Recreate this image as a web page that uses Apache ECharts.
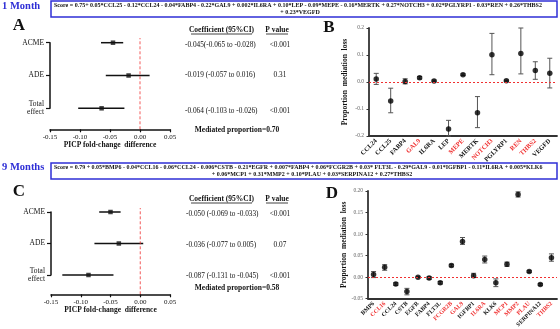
<!DOCTYPE html>
<html>
<head>
<meta charset="utf-8">
<script src="https://cdn.jsdelivr.net/npm/echarts@6/dist/echarts.min.js"></script>
<style>
html, body { margin: 0; padding: 0; background: #fff; }
#main { width: 560px; height: 329px; }
</style>
</head>
<body>
<div id="main"></div>
<script>
// forest plots (A: 1 month, C: 9 months)
var effectNames = ['ACME', 'ADE', 'Total effect'];
var coefA = [-0.045, -0.019, -0.064];
var lowA = [-0.065, -0.057, -0.103];
var highA = [-0.028, 0.016, -0.026];
var pA = ['<0.001', '0.31', '<0.001'];
var propA = '0.70';
var coefC = [-0.050, -0.036, -0.087];
var lowC = [-0.069, -0.077, -0.131];
var highC = [-0.033, 0.005, -0.045];
var pC = ['<0.001', '0.07', '<0.001'];
var propC = '0.58';
var zeroLine = [[0, 0], [0, 1]];

// proportion mediation loss (B: 1 month)
var genesB = ['CCL24', 'CCL25', 'FABP4', 'GAL9', 'IL6RA', 'LEP', 'MEPE', 'MERTK', 'NOTCH3', 'PGLYRP1', 'REN', 'THBS2', 'VEGFD'];
var redB = ['GAL9', 'MEPE', 'NOTCH3', 'REN', 'THBS2'];
var estB = [0.011, -0.070, 0.002, 0.016, 0.004, -0.174, 0.027, -0.114, 0.101, 0.005, 0.106, 0.043, 0.032];
var lowB = [-0.009, -0.114, -0.007, 0.011, 0.001, -0.200, 0.024, -0.169, 0.027, 0.003, 0.030, 0.010, -0.022];
var highB = [0.032, -0.023, 0.012, 0.020, 0.007, -0.142, 0.030, -0.054, 0.180, 0.007, 0.200, 0.075, 0.088];

// proportion mediation loss (D: 9 months)
var genesD = ['BMP6', 'CCL16', 'CCL24', 'CSTB', 'EGFR', 'FABP4', 'FLT3L', 'FCGR2B', 'GAL9', 'IGFBP1', 'IL6RA', 'KLK6', 'MCP1', 'MMP2', 'PLAU', 'SERPINA12', 'THBS2'];
var redD = ['CCL16', 'FCGR2B', 'GAL9', 'IL6RA', 'MCP1', 'MMP2', 'PLAU', 'THBS2'];
var estD = [0.006, 0.023, -0.016, -0.033, 0.000, -0.002, -0.013, 0.027, 0.083, 0.003, 0.041, -0.013, 0.030, 0.192, 0.013, -0.017, 0.045];
var lowD = [-0.001, 0.016, -0.019, -0.041, -0.001, -0.005, -0.016, 0.024, 0.076, -0.001, 0.033, -0.022, 0.025, 0.186, 0.011, -0.019, 0.037];
var highD = [0.013, 0.029, -0.013, -0.026, 0.001, 0.001, -0.010, 0.030, 0.092, 0.009, 0.049, -0.004, 0.035, 0.198, 0.015, -0.015, 0.054];

var scoreM1 = ['Score = 0.75+ 0.05*CCL25 - 0.12*CCL24 - 0.04*FABP4 - 0.22*GAL9 + 0.002*IL6RA + 0.10*LEP - 0.09*MEPE - 0.16*MERTK + 0.27*NOTCH3 + 0.02*PGLYRP1 - 0.03*REN + 0.26*THBS2',
  '+ 0.23*VEGFD'];
var scoreM9 = ['Score = 0.79 + 0.05*BMP6 - 0.04*CCL16 - 0.06*CCL24 - 0.006*CSTB - 0.21*EGFR + 0.007*FABP4 + 0.06*FCGR2B + 0.03* FLT3L - 0.29*GAL9 - 0.01*IGFBP1 - 0.11*IL6RA + 0.005*KLK6',
  '+ 0.06*MCP1 + 0.31*MMP2 + 0.10*PLAU + 0.03*SERPINA12 + 0.27*THBS2'];

var serif = '"Liberation Serif", "DejaVu Serif", serif';
var blue = '#2f2fd6';
var red = '#f03030';

function ciText(c, l, h, sep) {
  return c.toFixed(3) + sep + '(' + l.toFixed(3) + ' to ' + h.toFixed(3) + ')';
}

function forestBars(params, api) {
  var lo = api.coord([api.value(1), api.value(0)]);
  var hi = api.coord([api.value(2), api.value(0)]);
  return {
    type: 'line',
    shape: { x1: lo[0], y1: lo[1], x2: hi[0], y2: hi[1] },
    style: { stroke: '#111', lineWidth: 1.5 }
  };
}

function errorBars(params, api) {
  var top = api.coord([api.value(0), api.value(2)]);
  var bot = api.coord([api.value(0), api.value(1)]);
  var w = 2.5;
  var st = { stroke: '#555', lineWidth: 1 };
  return {
    type: 'group',
    children: [
      { type: 'line', shape: { x1: top[0], y1: top[1], x2: bot[0], y2: bot[1] }, style: st },
      { type: 'line', shape: { x1: top[0] - w, y1: top[1], x2: top[0] + w, y2: top[1] }, style: st },
      { type: 'line', shape: { x1: bot[0] - w, y1: bot[1], x2: bot[0] + w, y2: bot[1] }, style: st }
    ]
  };
}

function geneAxis(genes, reds, idx, fs) {
  return {
    type: 'category', gridIndex: idx,
    data: genes.map(function (g) {
      return { value: g, textStyle: { color: reds.indexOf(g) >= 0 ? red : '#111' } };
    }),
    axisLine: { onZero: false, lineStyle: { color: '#333', width: 1.8 } },
    axisTick: { show: false },
    axisLabel: { interval: 0, rotate: 45, margin: 4, fontSize: fs, fontWeight: 'bold', fontFamily: serif }
  };
}

function lossAxis(idx, min, max, step, dec) {
  return {
    type: 'value', gridIndex: idx, min: min, max: max, interval: step,
    name: 'Proportion  mediation  loss', nameLocation: 'middle', nameGap: 20,
    nameTextStyle: { fontSize: 7.5, fontWeight: 'bold', fontFamily: serif, color: '#111' },
    axisLine: { show: true, onZero: false, lineStyle: { color: '#333', width: 1.8 } },
    axisTick: { show: true, length: 2.5, lineStyle: { color: '#333' } },
    axisLabel: { fontSize: 5.5, color: '#666', margin: 5, fontFamily: serif,
      formatter: function (v) { return v.toFixed(dec); } },
    splitLine: { show: false }
  };
}

function effectAxis(idx) {
  return {
    type: 'category', gridIndex: idx, inverse: true, boundaryGap: false,
    data: effectNames,
    axisLine: { onZero: false, lineStyle: { color: '#111', width: 1.5 } },
    axisTick: { length: 4, lineStyle: { color: '#111', width: 1.2 } },
    axisLabel: { fontSize: 7.5, color: '#111', margin: 6, fontFamily: serif,
      formatter: function (v) { return v.replace(' ', '\n'); } }
  };
}

function foldAxis(idx, show, gap) {
  return {
    type: 'value', gridIndex: idx, min: -0.15, max: 0.05, interval: 0.05, show: show,
    name: 'PICP fold-change  difference', nameLocation: 'middle', nameGap: gap,
    nameTextStyle: { fontSize: 7.5, fontWeight: 'bold', fontFamily: serif, color: '#111' },
    axisLine: { onZero: false, lineStyle: { color: '#111', width: 1.5 } },
    axisTick: { length: 3, lineStyle: { color: '#111', width: 1.2 } },
    axisLabel: { fontSize: 7, color: '#111', margin: 4, fontFamily: serif,
      formatter: function (v) { return v.toFixed(2); } },
    splitLine: { show: false }
  };
}

function txt(x, y, s, font, fill, align) {
  return { type: 'text', style: { x: x, y: y, text: s, font: font, fill: fill || '#111',
    align: align || 'left', verticalAlign: 'middle' } };
}
function uline(x1, x2, y) {
  return { type: 'line', shape: { x1: x1, y1: y, x2: x2, y2: y }, style: { stroke: '#111', lineWidth: 0.8 } };
}

var graphics = [
  txt(2, 6, '1 Month', 'bold 10.5px ' + serif, blue),
  txt(2, 167, '9 Months', 'bold 10.5px ' + serif, blue),
  { type: 'rect', shape: { x: 51, y: 1, width: 506, height: 16 }, style: { fill: 'none', stroke: blue, lineWidth: 1.5 } },
  { type: 'rect', shape: { x: 51, y: 163, width: 506, height: 16 }, style: { fill: 'none', stroke: blue, lineWidth: 1.5 } },
  txt(54, 5.8, scoreM1[0], 'bold 6px ' + serif),
  txt(300, 12.6, scoreM1[1], 'bold 6px ' + serif, '#111', 'center'),
  txt(54, 167.5, scoreM9[0], 'bold 6px ' + serif),
  txt(312, 174.3, scoreM9[1], 'bold 6px ' + serif, '#111', 'center'),
  txt(19, 26, 'A', 'bold 17px ' + serif, '#111', 'center'),
  txt(329, 27.5, 'B', 'bold 17px ' + serif, '#111', 'center'),
  txt(19, 192, 'C', 'bold 17px ' + serif, '#111', 'center'),
  txt(332, 194, 'D', 'bold 17px ' + serif, '#111', 'center')
];

// right-hand text tables of A and C
[[30, [44.7, 74.7, 110.7], coefA, lowA, highA, pA, propA, 130, 185],
 [199, [214, 245, 276.5], coefC, lowC, highC, pC, propC, 288, 186]].forEach(function (t, k) {
  var hy = t[0];
  graphics.push(txt(221.5, hy, 'Coefficient (95%CI)', 'bold 7.5px ' + serif, '#111', 'center'));
  graphics.push(uline(191, 252, hy + 4));
  graphics.push(txt(277, hy, 'P value', 'bold 7.5px ' + serif, '#111', 'center'));
  graphics.push(uline(266, 288, hy + 4));
  for (var i = 0; i < 3; i++) {
    var sep = (k === 0 && i === 0) ? '' : ' ';
    graphics.push(txt(t[8], t[1][i], ciText(t[2][i], t[3][i], t[4][i], sep), '7.3px ' + serif));
    graphics.push(txt(280, t[1][i], t[5][i], '7.3px ' + serif, '#111', 'center'));
  }
  graphics.push(txt(237, t[7], 'Mediated proportion=' + t[6], 'bold 7.5px ' + serif, '#111', 'center'));
});

var myChart = echarts.init(document.getElementById('main'));
var option = {
  animation: false,
  textStyle: { fontFamily: serif },
  grid: [
    { left: 50, width: 120, top: 42.7, height: 65.6, outerBoundsMode: 'none' },
    { left: 50, width: 120, top: 38, height: 91.3, outerBoundsMode: 'none' },
    { left: 369, width: 188, top: 28, height: 108, outerBoundsMode: 'none' },
    { left: 51, width: 119, top: 212, height: 63, outerBoundsMode: 'none' },
    { left: 51, width: 119, top: 208, height: 86.3, outerBoundsMode: 'none' },
    { left: 368, width: 189, top: 191, height: 107.7, outerBoundsMode: 'none' }
  ],
  xAxis: [
    foldAxis(0, false, 10),
    foldAxis(1, true, 10),
    geneAxis(genesB, redB, 2, 6.5),
    foldAxis(3, false, 10),
    foldAxis(4, true, 12),
    geneAxis(genesD, redD, 5, 6)
  ],
  yAxis: [
    effectAxis(0),
    { type: 'value', gridIndex: 1, min: 0, max: 1, show: false },
    lossAxis(2, -0.2, 0.2, 0.1, 1),
    effectAxis(3),
    { type: 'value', gridIndex: 4, min: 0, max: 1, show: false },
    lossAxis(5, -0.05, 0.2, 0.05, 2)
  ],
  graphic: graphics,
  series: [
    { type: 'line', xAxisIndex: 1, yAxisIndex: 1, data: zeroLine, symbol: 'none',
      lineStyle: { color: red, width: 0.8, type: [3, 2] } },
    { type: 'custom', xAxisIndex: 0, yAxisIndex: 0, renderItem: forestBars, encode: { x: [1, 2], y: 0 },
      data: effectNames.map(function (n, i) { return [i, lowA[i], highA[i]]; }) },
    { type: 'scatter', xAxisIndex: 0, yAxisIndex: 0, symbol: 'rect', symbolSize: 4.5,
      itemStyle: { color: '#111' },
      data: effectNames.map(function (n, i) { return [coefA[i], i]; }) },

    { type: 'line', xAxisIndex: 4, yAxisIndex: 4, data: zeroLine, symbol: 'none',
      lineStyle: { color: red, width: 0.8, type: [3, 2] } },
    { type: 'custom', xAxisIndex: 3, yAxisIndex: 3, renderItem: forestBars, encode: { x: [1, 2], y: 0 },
      data: effectNames.map(function (n, i) { return [i, lowC[i], highC[i]]; }) },
    { type: 'scatter', xAxisIndex: 3, yAxisIndex: 3, symbol: 'rect', symbolSize: 4.5,
      itemStyle: { color: '#111' },
      data: effectNames.map(function (n, i) { return [coefC[i], i]; }) },

    { type: 'custom', xAxisIndex: 2, yAxisIndex: 2, renderItem: errorBars, encode: { x: 0, y: [1, 2] },
      data: genesB.map(function (g, i) { return [i, lowB[i], highB[i]]; }) },
    { type: 'scatter', xAxisIndex: 2, yAxisIndex: 2, symbolSize: 5.5, itemStyle: { color: '#000' },
      data: genesB.map(function (g, i) { return [i, estB[i]]; }),
      markLine: { silent: true, symbol: ['none', 'none'], label: { show: false },
        lineStyle: { color: red, width: 1, type: [2, 2] }, data: [{ yAxis: 0 }] } },

    { type: 'custom', xAxisIndex: 5, yAxisIndex: 5, renderItem: errorBars, encode: { x: 0, y: [1, 2] },
      data: genesD.map(function (g, i) { return [i, lowD[i], highD[i]]; }) },
    { type: 'scatter', xAxisIndex: 5, yAxisIndex: 5, symbolSize: 5.5, itemStyle: { color: '#000' },
      data: genesD.map(function (g, i) { return [i, estD[i]]; }),
      markLine: { silent: true, symbol: ['none', 'none'], label: { show: false },
        lineStyle: { color: red, width: 1, type: [2, 2] }, data: [{ yAxis: 0 }] } }
  ]
};
myChart.setOption(option);
</script>
</body>
</html>
